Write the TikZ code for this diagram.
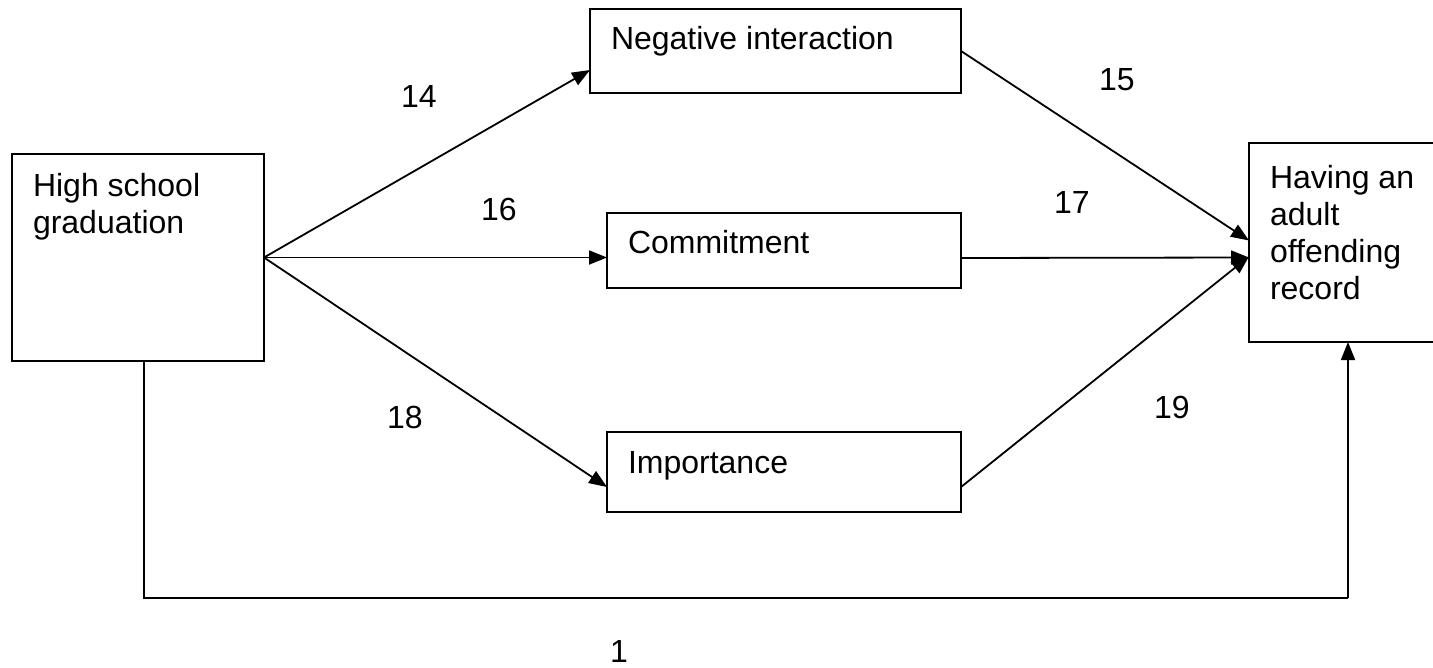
\documentclass[tikz,border=0pt]{standalone}
\usepackage{fontspec}
\setmainfont{Liberation Sans}
\usetikzlibrary{arrows.meta}

\begin{document}
\begin{tikzpicture}[x=1bp,y=-1bp,
  every node/.style={font=\fontsize{32bp}{37bp}\selectfont},
  box/.style={draw, line width=2bp, rectangle, inner sep=0, outer sep=0, anchor=north west},
  txt/.style={inner sep=0, outer sep=0, anchor=base west},
  mtxt/.style={inner sep=0, outer sep=0, anchor=north west, align=left},
  arr/.style={line width=1.8bp, -{Triangle[length=18bp,width=14bp]}},
  ln/.style={line width=1.8bp}]

  % page frame
  \useasboundingbox (0,0) rectangle (1433,668);

  % boxes
  \node[box, minimum width=252bp, minimum height=207bp] (hs)  at (12,154) {};
  \node[box, minimum width=371bp, minimum height=84bp]  (neg) at (590,9) {};
  \node[box, minimum width=354bp, minimum height=75bp]  (com) at (607,213) {};
  \node[box, minimum width=354bp, minimum height=80bp]  (imp) at (607,432) {};
  \node[box, minimum width=191bp, minimum height=199bp] (hav) at (1249,143) {};

  % box texts
  \node[mtxt] (hst)  at (33,173)   {High school\\graduation};
  \node[txt]  (negt) at (611,50)   {Negative interaction};
  \node[txt]  (comt) at (628,253)  {Commitment};
  \node[txt]  (impt) at (628,473)  {Importance};
  \node[mtxt] (havt) at (1270,165) {Having an\\adult\\offending\\record};

  % paths out of the predictor
  \draw[arr] (hs.east) -- ([yshift=-19bp]neg.west);
  \draw[arr] (hs.east) -- (hs.east -| com.west);
  \draw[arr] (hs.east) -- ([yshift=-15bp]imp.west);

  % paths into the outcome
  \draw[arr] (neg.east) -- ([yshift=2bp]hav.west);
  \draw[arr] ([yshift=-7.5bp]com.east) -- ([yshift=-15bp]hav.west);
  \draw[arr] ([yshift=-15bp]imp.east) -- ([yshift=-14bp]hav.west);

  % direct path
  \coordinate (lb) at (144,598);
  \coordinate (rb) at (1348,598);
  \draw[ln] ([xshift=6bp]hs.south) -- (lb) -- (rb);
  \draw[arr] (rb) -- (rb |- hav.south);

  % coefficients
  \node[txt] (c14) at (401,108) {14};
  \node[txt] (c16) at (481,220) {16};
  \node[txt] (c18) at (387,428) {18};
  \node[txt] (c15) at (1099,91) {15};
  \node[txt] (c17) at (1054,213) {17};
  \node[txt] (c19) at (1154,418) {19};
  \node[txt] (c1)  at (610,662) {1};
\end{tikzpicture}
\end{document}
